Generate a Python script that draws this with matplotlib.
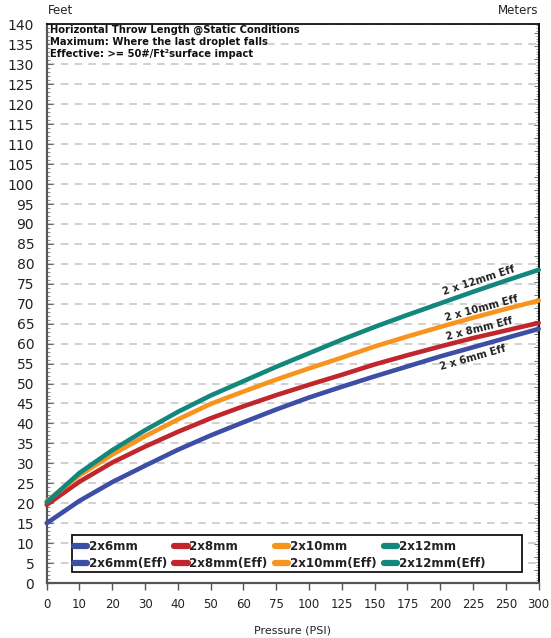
import matplotlib
matplotlib.use('Agg')
import matplotlib.pyplot as plt
from matplotlib.ticker import MultipleLocator
from matplotlib.patches import Rectangle

# ---------------- data ----------------
pressure_labels = ['0', '10', '20', '30', '40', '50', '60', '75', '100',
                   '125', '150', '175', '200', '225', '250', '300']

throw_2x6_eff = [15.0, 20.6, 25.3, 29.4, 33.4, 37.0, 40.3, 43.5, 46.5,
                 49.2, 51.8, 54.3, 56.8, 59.1, 61.4, 63.7]
throw_2x8_eff = [19.6, 25.4, 30.2, 34.2, 37.9, 41.3, 44.3, 47.1, 49.7,
                 52.2, 54.8, 57.1, 59.3, 61.4, 63.3, 65.2]
throw_2x10_eff = [20.5, 27.0, 32.2, 36.8, 41.0, 44.9, 48.0, 51.0, 53.8,
                  56.5, 59.3, 61.8, 64.2, 66.5, 68.7, 70.8]
throw_2x12_eff = [20.2, 27.6, 33.3, 38.3, 42.9, 47.0, 50.6, 54.2, 57.6,
                  61.0, 64.2, 67.2, 70.1, 73.0, 75.8, 78.5]

series_names = ['2x6mm', '2x8mm', '2x10mm', '2x12mm']
curve_labels = ['2 x 6mm Eff', '2 x 8mm Eff', '2 x 10mm Eff', '2 x 12mm Eff']
info_lines = ['Horizontal Throw Length @Static Conditions',
              'Maximum: Where the last droplet falls',
              'Effective: >= 50#/Ft\u00b2surface impact']

# ---------------- style ----------------
colors = ['#3D4EA6', '#C1262C', '#F7941E', '#13877B']
FONT = 'DejaVu Sans'
plt.rcParams['font.family'] = FONT

fig = plt.figure(figsize=(5.51, 6.38), dpi=100)
ax = fig.add_axes([0.08475, 0.0862, 0.8929, 0.8754])

x = list(range(len(pressure_labels)))
eff_series = [throw_2x6_eff, throw_2x8_eff, throw_2x10_eff, throw_2x12_eff]

handles = []
for name, ys, c in zip(series_names, eff_series, colors):
    # maximum series (legend entry only)
    hmax, = ax.plot([], [], color=c, lw=4, solid_capstyle='round', label=name)
    heff, = ax.plot(x, ys, color=c, lw=3.3, solid_capstyle='round',
                    solid_joinstyle='round',
                    label=name + '(Eff)', zorder=3, clip_on=False)
    handles.append(hmax)
    handles.append(heff)

ax.set_xlim(0, len(pressure_labels) - 1)
ax.set_ylim(0, 140)

# x axis
ax.set_xticks(x)
ax.set_xticklabels(pressure_labels, fontsize=8.5, color='#222222')
ax.tick_params(axis='x', which='major', direction='out', length=5,
               width=1, color='#555555', pad=6)
ax.set_xlabel('Pressure (PSI)', fontsize=8, color='#222222', labelpad=10)

# y axis
ax.yaxis.set_major_locator(MultipleLocator(5))
ax.yaxis.set_minor_locator(MultipleLocator(1))
ax.tick_params(axis='y', which='major', direction='in', length=4, width=0.8,
               color='#666666', labelsize=10, labelcolor='#222222', pad=9)
ax.tick_params(axis='y', which='minor', direction='in', length=2.5,
               width=0.6, color='#777777')

ax.grid(axis='y', which='major', color='#C4C4C4', linestyle=(0, (5, 4)),
        linewidth=1.1)
ax.set_axisbelow(True)

for side in ['left', 'bottom']:
    ax.spines[side].set_color('#555555')
    ax.spines[side].set_linewidth(1.6)
for side in ['top', 'right']:
    ax.spines[side].set_color('#111111')
    ax.spines[side].set_linewidth(1.3)

# right (meters) axis
sec = ax.secondary_yaxis('right', functions=(lambda f: f * 0.3048,
                                              lambda m: m / 0.3048))
sec.yaxis.set_major_locator(MultipleLocator(1))
sec.yaxis.set_minor_locator(MultipleLocator(0.2))
sec.tick_params(axis='y', which='major', direction='in', length=3.5,
                width=0.6, color='#555555', labelright=False)
sec.tick_params(axis='y', which='minor', direction='in', length=2,
                width=0.5, color='#777777')
sec.spines['right'].set_color('#111111')
sec.spines['right'].set_linewidth(1.3)

# unit labels
fig.text(0.0872, 0.984, 'Feet', fontsize=8.5, color='#222222',
         ha='left', va='center')
fig.text(0.977, 0.984, 'Meters', fontsize=8.5, color='#222222',
         ha='right', va='center')

# info text
for yy, t in zip([0.990, 0.9685, 0.947], info_lines):
    ax.text(0.0067, yy, t, transform=ax.transAxes, fontsize=7.2,
            fontweight='bold', color='#111111', ha='left', va='center',
            bbox=dict(facecolor='white', edgecolor='none', pad=0.3),
            zorder=4)

# curve labels
label_pos = [(13.0, 56.4, 16), (13.2, 63.6, 14), (13.27, 68.8, 15),
             (13.18, 75.9, 18)]
for (lx, ly, rot), t in zip(label_pos, curve_labels):
    ax.text(lx, ly, t, fontsize=7.3, fontweight='bold', color='#222222',
            rotation=rot, rotation_mode='anchor', ha='center', va='center',
            zorder=5)

# legend frame (drawn separately)
frame = Rectangle((0.0514, 0.0197), 0.9146, 0.0663, transform=ax.transAxes,
                  facecolor='white', edgecolor='#111111', linewidth=1.3,
                  zorder=6)
ax.add_patch(frame)

leg = ax.legend(handles=handles, ncol=4, loc='upper left',
                bbox_to_anchor=(0.0545, 0.0775), borderaxespad=0,
                prop={'family': FONT, 'weight': 'bold', 'size': 8.6},
                handlelength=1.15, handletextpad=0.12, columnspacing=0.6,
                labelspacing=0.36, borderpad=0.0, frameon=False)
leg.set_zorder(7)
for t in leg.get_texts():
    t.set_color('#222222')
for h in leg.legend_handles:
    h.set_linewidth(4.5)
    h.set_solid_capstyle('round')

fig.savefig('out.png', dpi=100, facecolor='white')
